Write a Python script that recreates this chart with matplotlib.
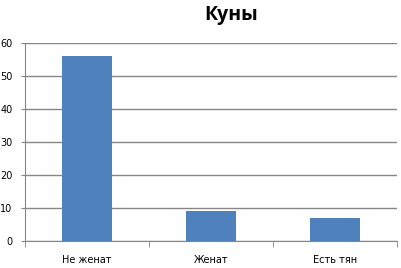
import matplotlib
matplotlib.use("Agg")
import matplotlib.pyplot as plt
import numpy as np

# data
categories = ["Не женат", "Женат", "Есть тян"]
values = [56, 9, 7]
yticks = [0, 10, 20, 30, 40, 50, 60]

W, H = 402, 268
fig = plt.figure(figsize=(W / 100, H / 100), dpi=100)
ax = fig.add_axes([25 / W, (H - 241) / H, 372 / W, 198 / H])

x = np.arange(len(categories))
ax.bar(x, values, width=0.4, color="#4F81BD", zorder=3)

ax.set_xlim(-0.5, len(categories) - 0.5)
ax.set_ylim(0, 60)
ax.set_yticks(yticks)
ax.set_yticklabels([str(v) for v in yticks], fontsize=7)
ax.yaxis.grid(True, color="#868686", linewidth=1, zorder=0)

# category labels between boundary ticks
ax.set_xticks(x)
ax.set_xticklabels(categories, fontsize=7)
ax.tick_params(axis="x", length=0, pad=10)
ax.set_xticks(np.arange(-0.5, len(categories)), minor=True)
ax.tick_params(axis="x", which="minor", length=4, color="#868686", direction="out")
ax.tick_params(axis="y", length=3, color="#868686", pad=6)

for side in ["top", "right"]:
    ax.spines[side].set_visible(False)
ax.spines["left"].set_color("#868686")
ax.spines["bottom"].set_color("#868686")

fig.text(231 / W, 1 - 15 / H, "Куны", fontsize=14, fontweight="bold",
         ha="center", va="center", family="Open Sans")

fig.savefig("out.png", dpi=100)
